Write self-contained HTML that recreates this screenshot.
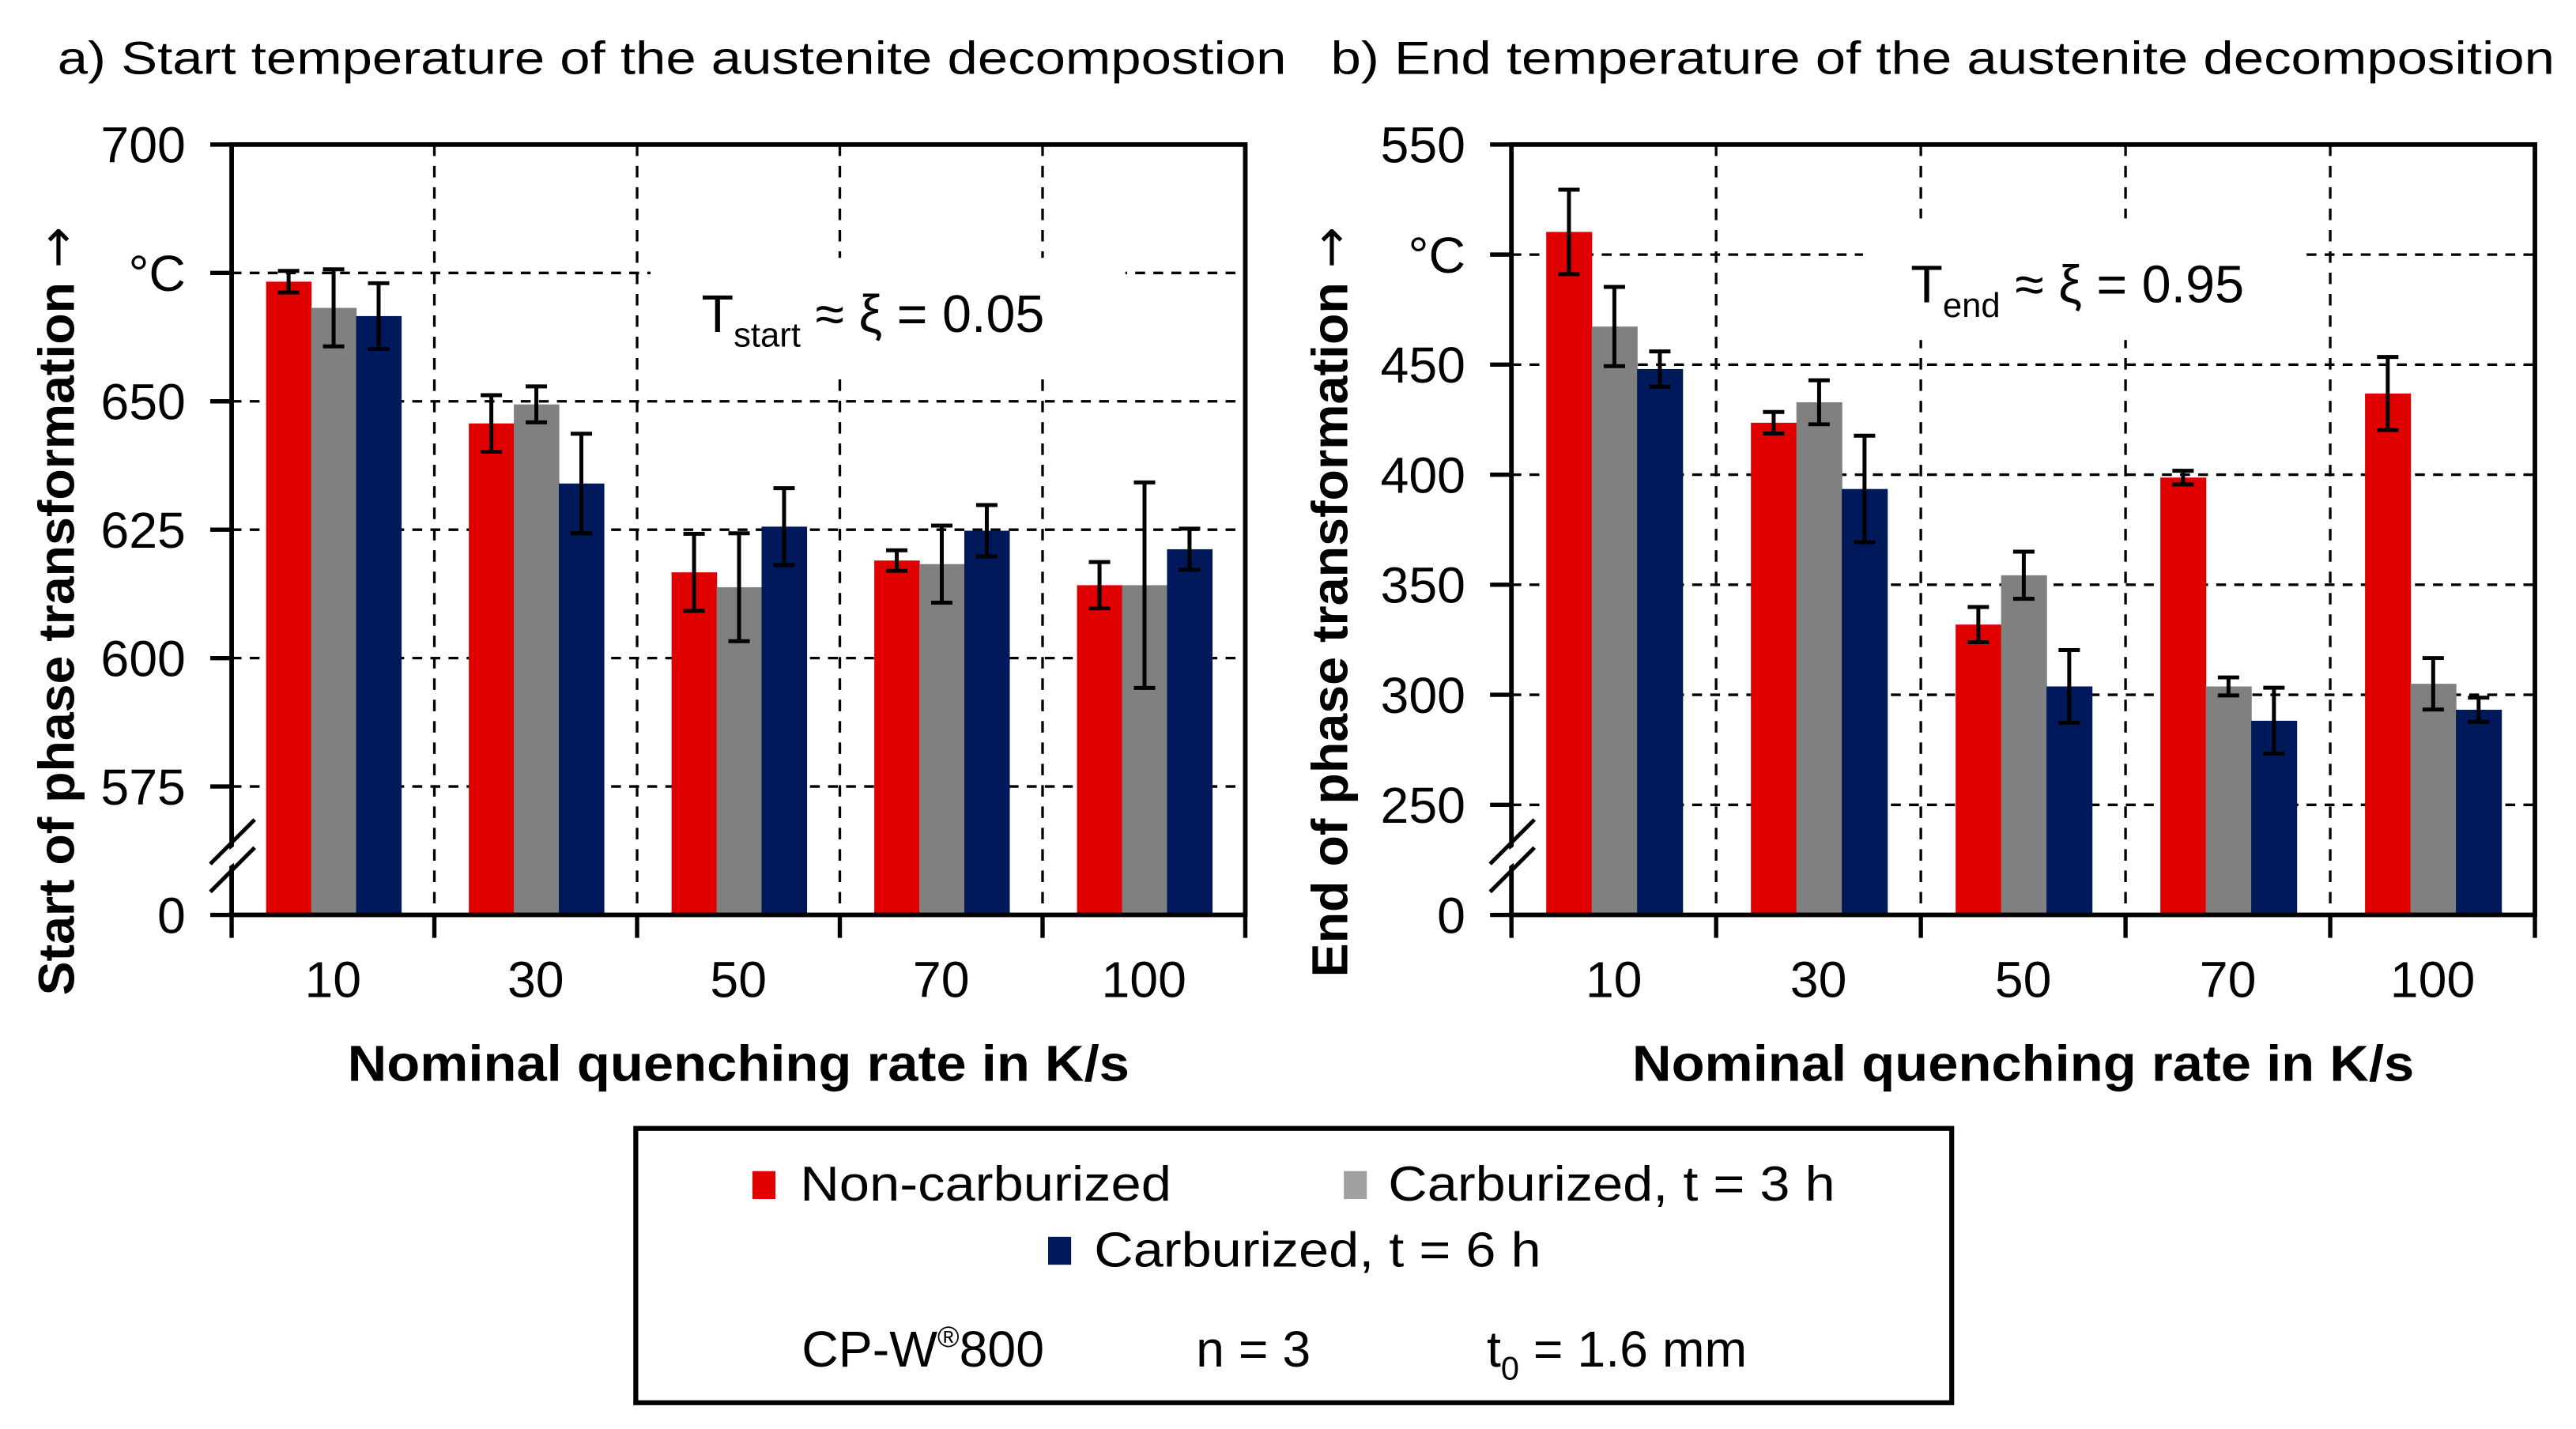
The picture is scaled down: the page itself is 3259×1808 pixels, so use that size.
<!DOCTYPE html>
<html><head><meta charset="utf-8"><style>
html,body{margin:0;padding:0;background:#fff}
svg{display:block}
text{font-family:"Liberation Sans",Arial,sans-serif;fill:#000}
</style></head><body>
<svg id="fig" xmlns="http://www.w3.org/2000/svg" width="3259" height="1808" viewBox="0 0 1568 870" preserveAspectRatio="none">
<rect x="0" y="0" width="1568" height="870" fill="#fff"/>
<text x="35" y="45" font-size="28" textLength="748" lengthAdjust="spacingAndGlyphs">a) Start temperature of the austenite decompostion</text>
<text x="810" y="45" font-size="28" textLength="745" lengthAdjust="spacingAndGlyphs">b) End temperature of the austenite decomposition</text>
<g id="chartA"></g>
<g id="chartB"></g>
<g>
<rect x="387" y="687" width="801" height="167" fill="#fff" stroke="#000" stroke-width="3"/>
<rect x="458" y="713" width="14" height="17" fill="#e00000"/>
<text x="487" y="731" font-size="30" textLength="226" lengthAdjust="spacingAndGlyphs">Non-carburized</text>
<rect x="818" y="713" width="14" height="17" fill="#a0a0a0"/>
<text x="845" y="731" font-size="30" textLength="272" lengthAdjust="spacingAndGlyphs">Carburized, t = 3 h</text>
<rect x="638" y="753" width="14" height="17" fill="#00195a"/>
<text x="666" y="771" font-size="30" textLength="272" lengthAdjust="spacingAndGlyphs">Carburized, t = 6 h</text>
<text x="488" y="832" font-size="31">CP-W<tspan font-size="18" dy="-12">®</tspan><tspan dy="12">800</tspan></text>
<text x="728" y="832" font-size="31">n = 3</text>
<text x="905" y="832" font-size="31">t<tspan font-size="20" dy="8">0</tspan><tspan dy="-8"> = 1.6 mm</tspan></text>
</g>
</svg>
<script>
const categories = ["10","30","50","70","100"];
const seriesNames = ["Non-carburized","Carburized, t = 3 h","Carburized, t = 6 h"];
const startRed  = [673.3, 645.7, 616.7, 619.0, 614.2];
const startGrey = [668.2, 649.4, 613.8, 618.3, 614.2];
const startBlue = [666.6, 634.0, 625.6, 624.8, 621.2];
const startRedErr  = [2.1, 5.5, 7.5, 2.0, 4.5];
const startGreyErr = [7.5, 3.5, 10.5, 7.5, 20.0];
const startBlueErr = [6.4, 9.7, 7.5, 5.0, 4.0];
const endRed  = [510.3, 423.6, 331.9, 398.7, 436.9];
const endGrey = [467.3, 432.9, 354.3, 303.8, 305.0];
const endBlue = [448.0, 393.5, 303.8, 288.2, 293.2];
const endRedErr  = [19.2, 4.9, 8.0, 3.1, 16.6];
const endGreyErr = [18.0, 10.0, 10.7, 4.1, 11.7];
const endBlueErr = [8.0, 24.2, 16.5, 15.0, 5.5];
const startTicks = [575, 600, 625, 650, 675, 700];
const startTickLabels = ["575","600","625","650","°C","700"];
const endTicks = [250, 300, 350, 400, 450, 500, 550];
const endTickLabels = ["250","300","350","400","450","°C","550"];

const NS = "http://www.w3.org/2000/svg";
const colors = ["#e00000","#808080","#00195a"];
function mk(parent, tag, attrs){const e=document.createElementNS(NS,tag);for(const k in attrs)e.setAttribute(k,attrs[k]);parent.appendChild(e);return e;}

function drawChart(g, opt){
  const L=opt.left, R=opt.right, T=88, B=557;
  const yScale = v => B - (v - opt.vmin)/(opt.vmax - opt.vmin)*(B - T);
  const cw = (R-L)/categories.length;
  const xCat = i => L + i*cw;
  const bw = cw*0.222, off = cw*0.17;
  opt.ticks.forEach((t,i)=>{
    if(t>=opt.vmax) return;
    const ln = mk(g,'line',{x1:L,x2:R,y1:yScale(t),y2:yScale(t),stroke:'#000','stroke-width':1.6,'stroke-dasharray':'6,5'});
    
    
  });
  for(let i=1;i<categories.length;i++){
    const ln = mk(g,'line',{x1:xCat(i),x2:xCat(i),y1:T,y2:B,stroke:'#000','stroke-width':1.6,'stroke-dasharray':'7,6'});
    
    
  }
  const wb = mk(g,'rect',Object.assign({fill:'#fff'},opt.box));
  
  
  opt.series.forEach((vals,s)=>{
    vals.forEach((v,i)=>{
      const x = xCat(i)+off+s*bw;
      const r = mk(g,'rect',{x:x,y:yScale(v),width:bw+0.3,height:B-yScale(v),fill:colors[s]});
      
      
    });
  });
  opt.series.forEach((vals,s)=>{
    vals.forEach((v,i)=>{
      const cx = xCat(i)+off+s*bw+bw/2;
      const e = opt.errs[s][i];
      const y1=yScale(v+e), y2=yScale(v-e);
      const eg = mk(g,'g',{stroke:'#000','stroke-width':2.4});
      
      
      mk(eg,'line',{x1:cx,x2:cx,y1:y1,y2:y2});
      mk(eg,'line',{x1:cx-6.5,x2:cx+6.5,y1:y1,y2:y1});
      mk(eg,'line',{x1:cx-6.5,x2:cx+6.5,y1:y2,y2:y2});
    });
  });
  const at = mk(g,'text',{x:opt.annX,y:opt.annY,'font-size':32});
  
  
  at.innerHTML = 'T<tspan font-size="21" dy="9">'+opt.sub+'</tspan><tspan dy="-9"> ≈ ξ = '+opt.xi+'</tspan>';
  const fr = mk(g,'rect',{x:L,y:T,width:R-L,height:B-T,fill:'none',stroke:'#000','stroke-width':2.8});
  
  
  opt.ticks.forEach((t,i)=>{
    const y=yScale(t);
    mk(g,'line',{x1:L-13,x2:L,y1:y,y2:y,stroke:'#000','stroke-width':2.6});
    const tx = mk(g,'text',{x:L-28,y:y+11,'font-size':31,'text-anchor':'end'});
    
    
    tx.textContent = opt.tickLabels[i];
  });
  mk(g,'line',{x1:L-13,x2:L,y1:B,y2:B,stroke:'#000','stroke-width':2.6});
  const z = mk(g,'text',{x:L-28,y:B+11,'font-size':31,'text-anchor':'end'});
  
  
  z.textContent='0';
  const br = mk(g,'g',{});
  
  
  mk(br,'polygon',{points:(L-13)+',526 '+(L+14)+',506 '+(L+14)+',516 '+(L-13)+',536',fill:'#fff'});
  mk(br,'line',{x1:L-13,y1:526,x2:L+14,y2:499,stroke:'#000','stroke-width':2.4});
  mk(br,'line',{x1:L-13,y1:543,x2:L+14,y2:516,stroke:'#000','stroke-width':2.4});
  for(let i=0;i<=categories.length;i++){
    mk(g,'line',{x1:xCat(i),x2:xCat(i),y1:B,y2:B+14,stroke:'#000','stroke-width':2.6});
  }
  categories.forEach((c,i)=>{
    const tx = mk(g,'text',{x:xCat(i)+cw/2,y:607,'font-size':31,'text-anchor':'middle'});
    
    
    tx.textContent=c;
  });
  const xt = mk(g,'text',{x:(L+R)/2-238,y:658,'font-size':31,'font-weight':'bold',textLength:476,lengthAdjust:'spacingAndGlyphs'});
  
  
  xt.textContent='Nominal quenching rate in K/s';
  const yt = mk(g,'text',{x:0,y:0,'font-size':31,'font-weight':'bold',textLength:opt.ytLen,lengthAdjust:'spacingAndGlyphs',transform:'translate('+opt.ytX+','+opt.ytY+') rotate(-90)'});
  
  
  yt.innerHTML=opt.ytitle+' <tspan font-weight="normal" font-family="DejaVu Sans" font-size="30">→</tspan>';
}

drawChart(document.getElementById('chartA'),{
  key:'start', left:141, right:758, vmin:550, vmax:700,
  ticks:startTicks, tickLabels:startTickLabels,
  series:[startRed,startGrey,startBlue], errs:[startRedErr,startGreyErr,startBlueErr],
  box:{x:396,y:157,width:289,height:69}, annX:427, annY:202, sub:'start', xi:'0.05',
  ytitle:'Start of phase transformation', ytX:45, ytY:606, ytLen:468
});
drawChart(document.getElementById('chartB'),{
  key:'end', left:920, right:1543, vmin:200, vmax:550,
  ticks:endTicks, tickLabels:endTickLabels,
  series:[endRed,endGrey,endBlue], errs:[endRedErr,endGreyErr,endBlueErr],
  box:{x:1134,y:133,width:266,height:74}, annX:1163, annY:184, sub:'end', xi:'0.95',
  ytitle:'End of phase transformation', ytX:820, ytY:595, ytLen:457
});
</script>
</body></html>
